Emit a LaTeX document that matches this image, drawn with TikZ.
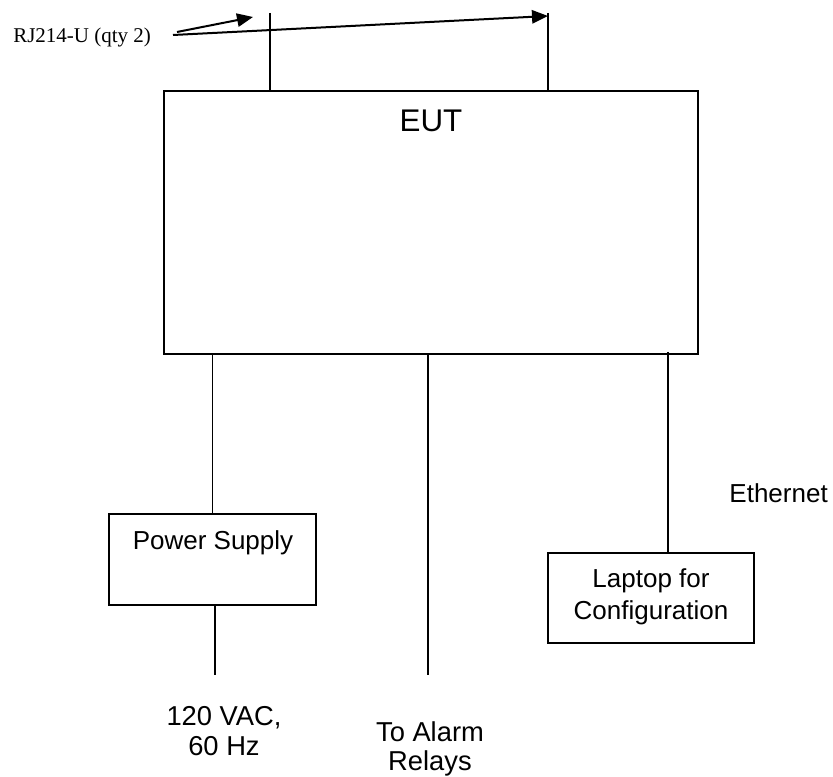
\documentclass[tikz,border=0pt]{standalone}
\usepackage{fontspec}
\setmainfont{Liberation Sans}
\newfontfamily\labelserif{Liberation Serif}
\usetikzlibrary{arrows.meta,fit}
\begin{document}
\begin{tikzpicture}[x=0.75pt,y=-0.75pt,
  boxstyle/.style={draw, line width=1.1pt, inner sep=0pt},
  wire/.style={line width=1pt},
  pointer/.style={line width=1.5pt, -{Triangle[length=12pt,width=10pt]}},
  txt/.style={inner sep=0pt, anchor=base, font=\fontsize{19.5}{22}\selectfont},
  bigtxt/.style={inner sep=0pt, anchor=base, font=\fontsize{20.5}{24}\selectfont},
]
\useasboundingbox (0,0) rectangle (833,777);

% boxes
\node[boxstyle, fit={(164,91) (698,354)}] (eut) {};
\node[boxstyle, fit={(109,514) (316,605)}] (ps) {};
\node[boxstyle, fit={(548,553) (754,643)}] (laptop) {};

% texts
\node[inner sep=0pt, anchor=base, font=\fontsize{23.5}{27}\selectfont] (euttext) at (431,132) {EUT};
\node[txt] (pstext) at (213,550) {Power Supply};
\node[txt] (lap1) at (651,588) {Laptop for};
\node[txt] (lap2) at (651,619) {Configuration};
\node[txt, anchor=base east] (eth) at (828,503) {Ethernet};
\node[bigtxt] (vac1) at (224,725) {120 VAC,};
\node[bigtxt] (vac2) at (224,755) {60 Hz};
\node[bigtxt] (rel1) at (430,741) {To Alarm};
\node[bigtxt] (rel2) at (430,770) {Relays};
\node[inner sep=0pt, anchor=base west, font=\labelserif\fontsize{15.75}{18}\selectfont] (rj) at (13,43) {RJ214-U (qty 2)};

% connector points
\coordinate (a1s) at (177,32);
\coordinate (a1e) at (253,17);
\coordinate (a2s) at (173,35);
\coordinate (a2e) at (548,16);
\coordinate (t1) at (270,13);
\coordinate (t2) at (548,13);
\coordinate (acend) at (215,675);
\coordinate (relayend) at (428,675);
\coordinate (ethx) at (668,352);

% pointer arrows
\draw[pointer] (a1s) -- (a1e);
\draw[pointer] (a2s) -- (a2e);

% cables
\draw[wire] (t1) -- (t1 |- eut.north);
\draw[wire] (t2) -- (t2 |- eut.north);
\draw[wire] (ps.north |- eut.south) -- (ps.north);
\draw[wire] (ps.south -| acend) -- (acend);
\draw[wire] (relayend |- eut.south) -- (relayend);
\draw[wire] (ethx) -- (laptop.north -| ethx);
\end{tikzpicture}
\end{document}
